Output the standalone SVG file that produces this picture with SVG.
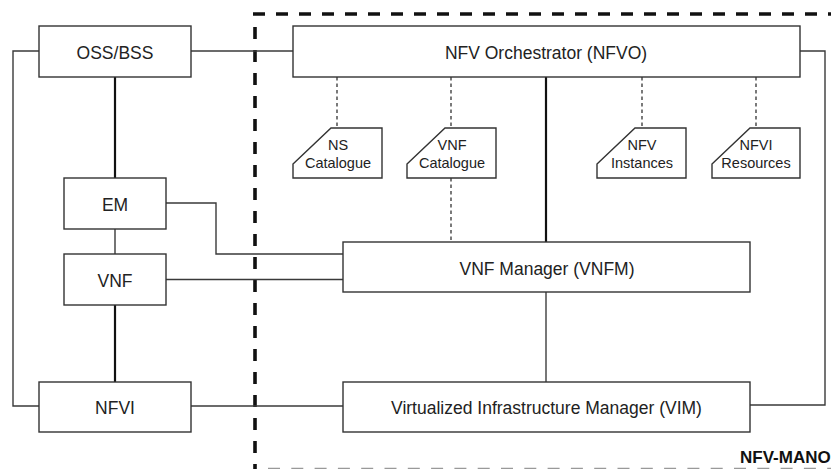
<svg xmlns="http://www.w3.org/2000/svg" width="831" height="469" viewBox="0 0 831 469">
<style>
.box{fill:#fff;stroke:#333;stroke-width:1.4}
.t{font-family:"Liberation Sans",Arial,sans-serif;font-size:17.5px;fill:#222;text-anchor:middle}
.ts{font-family:"Liberation Sans",Arial,sans-serif;font-size:14.5px;fill:#222;text-anchor:middle}
.thin{fill:none;stroke:#3a3a3a;stroke-width:1.4}
.thick{fill:none;stroke:#111;stroke-width:2.2}
.dot{fill:none;stroke:#222;stroke-width:1.2;stroke-dasharray:3.5 3}
.bnd{fill:none;stroke:#111;stroke-width:3.6;stroke-dasharray:12 11}
</style>
<rect width="831" height="469" fill="#fff"/>
<g id="boundary">
<line class="bnd" x1="253" y1="14" x2="831" y2="14"/>
<line class="bnd" x1="255" y1="27" x2="255" y2="469"/>
<line x1="268" y1="468.5" x2="831" y2="468.5" stroke="#999" stroke-width="1.5" stroke-dasharray="12 11.3"/>
<text x="740" y="462.5" font-family="'Liberation Sans',Arial,sans-serif" font-size="17px" font-weight="bold" fill="#111">NFV-MANO</text>
</g>
<g id="connectors">
<polyline class="thin" points="39,51 13,51 13,406 39,406"/>
<line class="thin" x1="191" y1="51" x2="293" y2="51"/>
<line class="thick" x1="115" y1="77" x2="115" y2="178"/>
<line class="thin" x1="115" y1="229" x2="115" y2="254"/>
<line class="thick" x1="115" y1="305" x2="115" y2="382"/>
<polyline class="thin" points="166,203 216,203 216,254 343,254"/>
<line class="thin" x1="166" y1="279.5" x2="343" y2="279.5"/>
<line class="thin" x1="191" y1="406" x2="343" y2="406"/>
<line class="thick" x1="546" y1="77" x2="546" y2="242"/>
<line x1="546" y1="292" x2="546" y2="382" stroke="#555" stroke-width="1.6"/>
<polyline class="thin" points="800,51 825,51 825,405 750,405"/>
<line class="dot" x1="337" y1="77" x2="337" y2="128"/>
<line class="dot" x1="451" y1="77" x2="451" y2="128"/>
<line class="dot" x1="451" y1="178" x2="451" y2="242"/>
<line class="dot" x1="642" y1="77" x2="642" y2="128"/>
<line class="dot" x1="756" y1="77" x2="756" y2="128"/>
</g>
<g id="oss">
<rect class="box" x="39" y="26" width="152" height="51"/>
<text class="t" x="115" y="58.5">OSS/BSS</text>
</g>
<g id="em">
<rect class="box" x="64" y="178" width="102" height="51"/>
<text class="t" x="115" y="210.5">EM</text>
</g>
<g id="vnf">
<rect class="box" x="64" y="254" width="102" height="51"/>
<text class="t" x="115" y="286.5">VNF</text>
</g>
<g id="nfvi">
<rect class="box" x="39" y="382" width="152" height="50"/>
<text class="t" x="115" y="413.5">NFVI</text>
</g>
<g id="nfvo">
<rect class="box" x="293" y="26" width="507" height="51"/>
<text class="t" x="546" y="58.5">NFV Orchestrator (NFVO)</text>
</g>
<g id="vnfm">
<rect class="box" x="343" y="242" width="407" height="50"/>
<text class="t" x="547" y="275">VNF Manager (VNFM)</text>
</g>
<g id="vim">
<rect class="box" x="343" y="382" width="407" height="50"/>
<text class="t" x="546.5" y="413.5">Virtualized Infrastructure Manager (VIM)</text>
</g>
<g id="ns-catalogue">
<path class="box" d="M293,164 L331,128 H382 V178 H293 Z"/>
<text class="ts" x="338" y="150">NS</text>
<text class="ts" x="338" y="168">Catalogue</text>
</g>
<g id="vnf-catalogue">
<path class="box" d="M407,164 L445,128 H496 V178 H407 Z"/>
<text class="ts" x="452" y="150">VNF</text>
<text class="ts" x="452" y="168">Catalogue</text>
</g>
<g id="nfv-instances">
<path class="box" d="M597,164 L635,128 H686 V178 H597 Z"/>
<text class="ts" x="642" y="150">NFV</text>
<text class="ts" x="642" y="168">Instances</text>
</g>
<g id="nfvi-resources">
<path class="box" d="M712,164 L750,128 H800 V178 H712 Z"/>
<text class="ts" x="756" y="150">NFVI</text>
<text class="ts" x="756" y="168">Resources</text>
</g>
</svg>
